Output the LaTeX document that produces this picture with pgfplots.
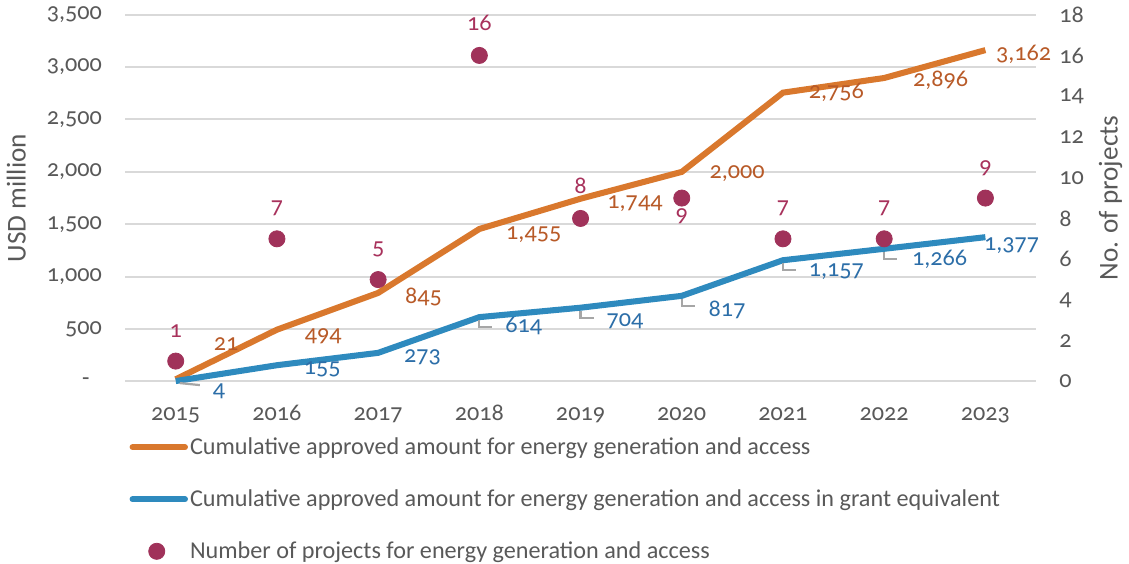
\documentclass[border=0pt]{standalone}
\usepackage{fontspec}
\setmainfont{Carlito}[Numbers=OldStyle]
\usepackage{pgfplots}
\pgfplotsset{compat=1.18}

\definecolor{lineorange}{RGB}{217,120,45}
\definecolor{textorange}{RGB}{184,90,40}
\definecolor{lineblue}{RGB}{46,138,190}
\definecolor{textblue}{RGB}{44,110,168}
\definecolor{dotred}{RGB}{160,50,90}
\definecolor{textred}{RGB}{168,50,92}
\definecolor{txtgray}{RGB}{89,89,89}
\definecolor{gridgray}{RGB}{217,217,217}

% small L-shaped leader line under a data label
\pgfdeclareplotmark{leader}{%
  \pgfpathmoveto{\pgfqpoint{0pt}{-1.5pt}}%
  \pgfpathlineto{\pgfqpoint{0pt}{-5pt}}%
  \pgfpathlineto{\pgfqpoint{6.5pt}{-5pt}}%
  \pgfusepathqstroke}
\pgfdeclareplotmark{leaderflat}{%
  \pgfpathmoveto{\pgfqpoint{2pt}{-1pt}}%
  \pgfpathlineto{\pgfqpoint{12pt}{-2pt}}%
  \pgfusepathqstroke}

% x, value, label offsets in pt
\pgfplotstableread{
x    y     dx    dy
2015 21    25    17.5
2016 494   23    -3
2017 845   22.5  -2
2018 1455  27    -3
2019 1744  27    -2.5
2020 2000  27.5  -1
2021 2756  26.5  0
2022 2896  28    -1
2023 3162  19    -2
}\orangedata

\pgfplotstableread{
x    y     dx    dy
2015 4     21.5  -5
2016 155   22.5  -2
2017 273   22    -2
2018 614   22    -4.5
2019 704   22    -6.5
2020 817   22.5  -7
2021 1157  26.5  -5.5
2022 1266  27.5  -5
2023 1377  13    -4
}\bluedata

\pgfplotstableread{
x    y
2018 614
2019 704
2020 817
2021 1157
2022 1266
}\leaderdata

\pgfplotstableread{
x    y   dy
2015 1   15
2016 7   15
2017 5   15
2018 16  16
2019 8   16
2020 9   -9
2021 7   15
2022 7   15
2023 9   15
}\projdata

\begin{document}
\begin{tikzpicture}[font=\fontsize{12}{14.4}\selectfont, text=txtgray]
\pgfkeys{/pgf/number format/assume math mode=true}
\begin{axis}[
  scale only axis, width=452pt, height=182pt,
  xmin=2014.5, xmax=2023.5, ymin=0, ymax=3500,
  axis line style={draw=none}, tick style={draw=none},
  xtick={2015,...,2023},
  x tick label style={/pgf/number format/1000 sep={}, anchor=base, yshift=-19.5pt},
  ytick={0,500,...,3500},
  yticklabels={-\hphantom{0},500,{1,000},{1,500},{2,000},{2,500},{3,000},{3,500}},
  y tick label style={xshift=-8pt},
  ymajorgrids, grid style={gridgray, line width=1pt},
  ylabel={USD million},
  ylabel style={at={(axis description cs:-0.1195,0.5)}, anchor=center, font=\fontsize{13.5}{15}\selectfont},
  /pgf/number format/1000 sep={,},
  every node near coord/.append style={anchor=center, font=\fontsize{12}{14.4}\selectfont},
  legend style={at={(0,0)}, anchor=north west, yshift=-26.5pt, xshift=2pt, draw=none,
    fill=none, row sep=14pt, font=\fontsize{12}{14.4}\selectfont, text=txtgray,
    inner sep=0pt, nodes={inner sep=1pt}},
  legend cell align=left,
  clip=false,
]
\addplot[only marks, mark=leader, gray!70, line width=1.1pt, forget plot] table[x=x, y=y] {\leaderdata};
\addplot[only marks, mark=leaderflat, gray!70, line width=1.1pt, forget plot] coordinates {(2015,4)};
\addplot[lineorange, line width=3pt, mark=none,
  nodes near coords, point meta=y,
  visualization depends on={\thisrow{dx} \as \dx},
  visualization depends on={\thisrow{dy} \as \dy},
  nodes near coords style={text=textorange, xshift=\dx pt, yshift=\dy pt},
  legend image code/.code={\draw[lineorange, line width=3pt, line cap=round] (0pt,0pt) -- (26pt,0pt);}
] table[x=x, y=y] {\orangedata};
\addlegendentry{Cumulative approved amount for energy generation and access}
\addplot[lineblue, line width=3pt, mark=none,
  nodes near coords, point meta=y,
  visualization depends on={\thisrow{dx} \as \dx},
  visualization depends on={\thisrow{dy} \as \dy},
  nodes near coords style={text=textblue, xshift=\dx pt, yshift=\dy pt},
  legend image code/.code={\draw[lineblue, line width=3pt, line cap=round] (0pt,0pt) -- (26pt,0pt);}
] table[x=x, y=y] {\bluedata};
\addlegendentry{Cumulative approved amount for energy generation and access in grant equivalent}
\addlegendimage{legend image code/.code={\fill[dotred] (12pt,0pt) circle (4pt);}}
\addlegendentry{Number of projects for energy generation and access}
\end{axis}
\begin{axis}[
  scale only axis, width=452pt, height=182pt,
  xmin=2014.5, xmax=2023.5, ymin=0, ymax=18,
  hide x axis, axis y line*=right,
  axis line style={draw=none}, tick style={draw=none},
  ytick={0,2,...,18},
  y tick label style={anchor=west, xshift=8pt},
  ylabel={No. of projects},
  ylabel style={at={(axis description cs:1.0819,0.5)}, anchor=center, font=\fontsize{13.5}{15}\selectfont},
  clip=false,
]
\addplot[only marks, mark=*, mark size=4pt, dotred, mark options={draw=none, fill=dotred},
  nodes near coords, point meta=y,
  visualization depends on={\thisrow{dy} \as \dy},
  nodes near coords style={text=textred, anchor=center, yshift=\dy pt}
] table[x=x, y=y] {\projdata};
\end{axis}
\end{tikzpicture}
\end{document}
